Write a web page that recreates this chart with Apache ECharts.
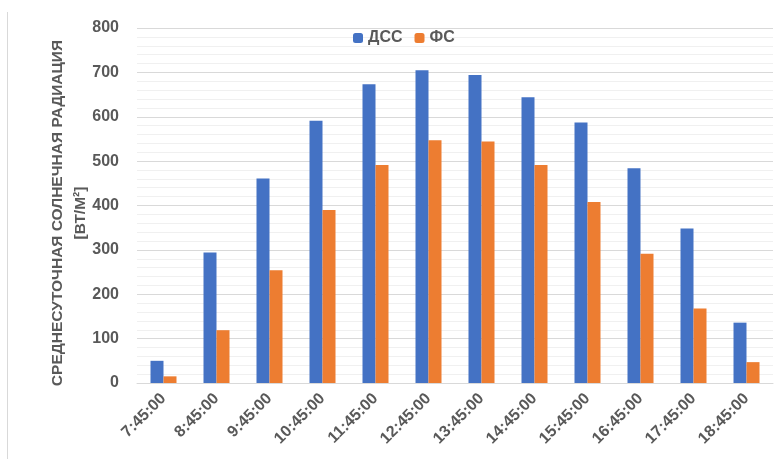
<!DOCTYPE html>
<html><head><meta charset="utf-8">
<script src="https://cdn.jsdelivr.net/npm/echarts@6/dist/echarts.min.js"></script>
<style>html,body{margin:0;padding:0;background:#fff}#c{width:774px;height:459px}</style>
</head><body><div id="c"></div>
<script>
const categories = ['7:45:00','8:45:00','9:45:00','10:45:00','11:45:00','12:45:00','13:45:00','14:45:00','15:45:00','16:45:00','17:45:00','18:45:00'];
const dss = [50, 294, 461, 591, 673, 705, 694, 644, 587, 484, 348, 136];
const fs = [15, 119, 254, 390, 491, 547, 544, 491, 408, 291, 168, 47];
const yTicks = [0, 100, 200, 300, 400, 500, 600, 700, 800];
const yTitle = 'СРЕДНЕСУТОЧНАЯ СОЛНЕЧНАЯ РАДИАЦИЯ\n[ВТ/М²]';

const chart = echarts.init(document.getElementById('c'));
const font = '"Liberation Sans", Arial, sans-serif';
chart.setOption({
  animation: false,
  textStyle: {fontFamily: font},
  graphic: [
    {type:'line', shape:{x1:7.5,y1:12,x2:7.5,y2:459}, style:{stroke:'#d9d9d9', lineWidth:1}},
    {type:'text', x:69, y:213, rotation:Math.PI/2,
     style:{text:yTitle, fill:'#595959', font:'bold 15.5px ' + font, textAlign:'center', textVerticalAlign:'middle', lineHeight:23}}
  ],
  legend: {
    top: 25, left: 348, itemWidth: 10, itemHeight: 10, itemGap: 12,
    textStyle: {color:'#595959', fontSize: 16, fontWeight:'bold', fontFamily: font},
    data: ['ДСС','ФС']
  },
  grid: {left: 137, right: 1, top: 28, bottom: 76},
  xAxis: {
    type: 'category', data: categories,
    axisLine: {lineStyle:{color:'#d9d9d9', width:1}},
    axisTick: {show:false},
    axisLabel: {rotate:45, color:'#595959', fontSize:16, fontWeight:'bold', margin:13, interval:0, fontFamily: font}
  },
  yAxis: {
    type: 'value', min: yTicks[0], max: yTicks[yTicks.length-1], interval: 100,
    axisLine: {show:false}, axisTick: {show:false},
    axisLabel: {color:'#595959', fontSize:16, fontWeight:'bold', margin:18, fontFamily: font},
    splitLine: {lineStyle:{color:'#d9d9d9', width:1}},
    minorTick: {show:false, splitNumber:5},
    minorSplitLine: {show:true, lineStyle:{color:'#f0f0f0', width:1}}
  },
  series: [
    {name:'ДСС', type:'bar', data:dss, barWidth:13, barGap:'0%', itemStyle:{color:'#4472C4'}},
    {name:'ФС', type:'bar', data:fs, barWidth:13, barGap:'0%', itemStyle:{color:'#ED7D31'}}
  ]
});
</script></body></html>
